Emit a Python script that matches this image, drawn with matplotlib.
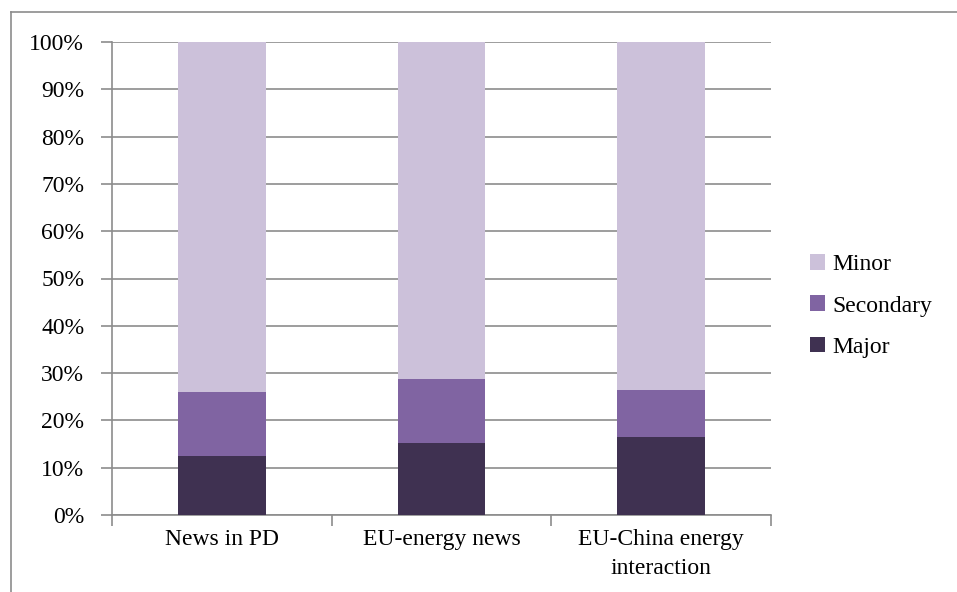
import matplotlib
matplotlib.use("Agg")
import matplotlib.pyplot as plt
from matplotlib.lines import Line2D
import numpy as np

categories = ["News in PD", "EU-energy news", "EU-China energy\ninteraction"]
major = [12.5, 15.3, 16.5]
secondary = [13.5, 13.5, 10.0]
minor = [74.0, 71.2, 73.5]

plt.rcParams['font.family'] = ['Liberation Serif', 'DejaVu Serif']
FS = 17

fig = plt.figure(figsize=(9.57, 5.92), dpi=100)
ax = fig.add_axes([112/957, 1 - 515/592, 659/957, 473/592])

x = np.arange(len(categories))
w = 0.4
c_major, c_sec, c_minor = '#3F3151', '#8064A2', '#CCC1DA'
b1 = ax.bar(x, major, w, color=c_major, zorder=3, label='Major')
b2 = ax.bar(x, secondary, w, bottom=major, color=c_sec, zorder=3, label='Secondary')
bot3 = np.array(major) + np.array(secondary)
b3 = ax.bar(x, minor, w, bottom=bot3, color=c_minor, zorder=3, label='Minor')

ax.set_xlim(-0.5, 2.5)
ax.set_ylim(0, 100)
ax.set_yticks(np.arange(0, 101, 10))
ax.set_yticklabels([f"{v}%" for v in range(0, 101, 10)], fontsize=FS)
ax.yaxis.grid(True, color='#8c8c8c', linewidth=1.2, zorder=0)
ax.set_axisbelow(True)

ax.set_xticks(x)
ax.set_xticklabels(categories, fontsize=FS, linespacing=1.5)
ax.tick_params(axis='x', which='major', length=0, pad=10)
ax.set_xticks([-0.5, 0.5, 1.5, 2.5], minor=True)
ax.tick_params(axis='x', which='minor', length=8, direction='out', color='#8c8c8c', width=1.2)
ax.tick_params(axis='y', length=8, direction='out', color='#8c8c8c', width=1.2, pad=12)

for s in ['top', 'right']:
    ax.spines[s].set_visible(False)
for s in ['left', 'bottom']:
    ax.spines[s].set_color('#8c8c8c')
    ax.spines[s].set_linewidth(1.2)

handles = [b3, b2, b1]
leg = fig.legend(handles, ['Minor', 'Secondary', 'Major'], loc='center left',
                 bbox_to_anchor=(810/957, 1 - 306/592), frameon=False, fontsize=FS,
                 borderaxespad=0, borderpad=0,
                 handlelength=0.64, handleheight=0.64, handletextpad=0.3, labelspacing=0.85)

# outer chart frame
fig.add_artist(Line2D([11/957, 11/957], [0, 1 - 12/592], transform=fig.transFigure, color='#8c8c8c', lw=1.2))
fig.add_artist(Line2D([11/957, 1], [1 - 12/592, 1 - 12/592], transform=fig.transFigure, color='#8c8c8c', lw=1.2))

fig.savefig('out.png', dpi=100)
